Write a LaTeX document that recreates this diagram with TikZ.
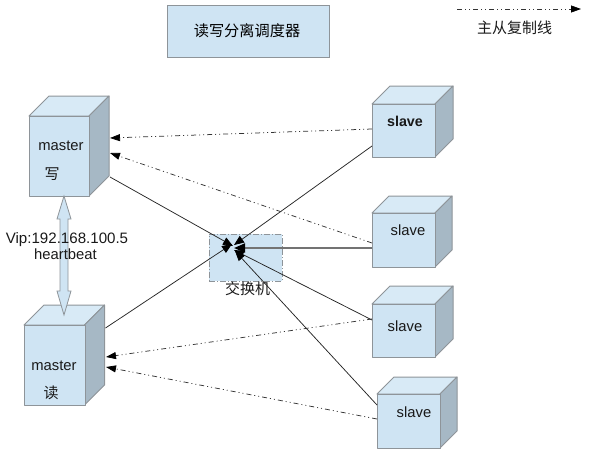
\documentclass[tikz,border=0pt]{standalone}
\usepackage{fontspec}
\setmainfont{Liberation Sans}
\newfontfamily\cjk{Noto Sans CJK SC}
\usetikzlibrary{arrows.meta}
\definecolor{cfront}{HTML}{CFE4F3}
\definecolor{ctop}{HTML}{D8EAF6}
\definecolor{cside}{HTML}{A6B8C5}
\definecolor{cedge}{HTML}{8E9499}
\tikzset{
  x=1pt,y=-1pt,
  lat/.style={font=\fontsize{14.8}{16}\selectfont,inner sep=0pt,text=black!90},
  han/.style={font=\cjk\fontsize{15}{17}\selectfont,inner sep=0pt,text=black!90},
  facefront/.style={draw=cedge,line width=1pt,fill=cfront,inner sep=0pt,anchor=north west,line join=round},
  facetop/.style={draw=cedge,line width=1pt,fill=ctop,line join=round},
  faceside/.style={draw=cedge,line width=1pt,fill=cside,line join=round},
  link/.style={draw=black!85,line width=.75pt,-{Triangle[length=10pt,width=8pt,color=black]}},
  linkthick/.style={draw=black!55,line width=2pt,-{Triangle[length=11pt,width=9pt,color=black]}},
  repl/.style={draw=black!80,line width=.75pt,dash pattern=on 5pt off 3pt on 1pt off 3pt on 1pt off 3pt,-{Triangle[length=10pt,width=7pt,color=black]}},
  beat/.style={draw=cedge,line width=.8pt,fill=cfront,line join=miter},
}
% name, left, top, width, height, depth
\newcommand{\cubebox}[6]{%
  \fill[facetop] (#2,#3) -- ({#2+#6},{#3-#6}) -- ({#2+#4+#6},{#3-#6}) -- ({#2+#4},#3) -- cycle;
  \fill[faceside] ({#2+#4},#3) -- ({#2+#4+#6},{#3-#6}) -- ({#2+#4+#6},{#3+#5-#6}) -- ({#2+#4},{#3+#5}) -- cycle;
  \node[facefront,minimum width=#4pt,minimum height=#5pt] (#1) at (#2,#3) {};
}
\begin{document}
\begin{tikzpicture}
\useasboundingbox (0,0) rectangle (591,463);
% scheduler
\node[draw=cedge,line width=1pt,fill=cfront,minimum width=162pt,minimum height=52pt,inner sep=0pt,font=\cjk\fontsize{15.2}{17}\selectfont] (sched) at (248,31) {\hspace{-2pt}读写分离调度器};
% legend
\coordinate (legA) at (457,9);
\coordinate (legB) at (581,9);
\draw[repl] (legA) -- (legB);
\node[han] (legT) at (514.5,28) {主从复制线};
% switch
\node[draw=cedge,line width=1pt,dash pattern=on 6pt off 2pt on 1pt off 2pt,fill=cfront,minimum width=73pt,minimum height=47pt,inner sep=0pt] (sw) at (245.5,257.5) {};
\node[han] (swT) at (247.5,289) {交换机};
% cubes
\cubebox{mw}{29}{116}{60}{80}{20}
\cubebox{mr}{24}{325}{60.5}{80}{20}
\cubebox{sa}{372}{104}{63}{53}{18}
\cubebox{sb}{372}{213}{63}{54}{17}
\cubebox{sc}{372}{304}{63}{53}{18}
\cubebox{sd}{377}{394}{63}{54}{17}
% connector ends
\coordinate (mwL) at (110,177);
\coordinate (mrL) at (105.5,328);
\coordinate (saL) at (372,146);
\coordinate (sbL) at (372,248);
\coordinate (scL) at (372,320);
\coordinate (sdL) at (377,405);
\coordinate (swA) at (233,246);
\coordinate (swB) at (232,244);
\coordinate (swF) at (234,245);
\coordinate (swC) at (234,248);
\coordinate (swD) at (234,250);
\coordinate (swE) at (235,251);
% links
\draw[link] (mwL) -- (swA);
\draw[link] (mrL) -- (swB);
\draw[link] (saL) -- (swF);
\draw[linkthick] (sbL) -- (swC);
\draw[link] (scL) -- (swD);
\draw[link] (sdL) -- (swE);
% replication
\coordinate (saR) at (372,129);
\coordinate (sbR) at (372,243);
\coordinate (scR) at (372,319);
\coordinate (sdR) at (377,419);
\coordinate (mwP) at (110,138);
\coordinate (mwQ) at (110,153);
\coordinate (mrP) at (106,357);
\coordinate (mrQ) at (106,367);
\draw[repl] (saR) -- (mwP);
\draw[repl] (sbR) -- (mwQ);
\draw[repl] (scR) -- (mrP);
\draw[repl] (sdR) -- (mrQ);
% heartbeat
\filldraw[beat] (64,196) -- (71,219) -- (68,219) -- (68,291) -- (71,291) -- (64,315) -- (57,291) -- (60,291) -- (60,219) -- (57,219) -- cycle;
% labels
\node[lat] (mwT) at (61,146) {master};
\node[han] (mwH) at (52,174) {写};
\node[lat] (mrT) at (54,366) {master};
\node[han] (mrH) at (51,393) {读};
\node[lat,font=\bfseries\fontsize{14.3}{16}\selectfont] (saT) at (405,121) {slave};
\node[lat] (sbT) at (408,230) {slave};
\node[lat] (scT) at (405,326) {slave};
\node[lat] (sdT) at (414,412) {slave};
\node[lat,font=\fontsize{15.1}{16}\selectfont] (vip) at (67,240) {Vip:192.168.100.5};
\node[lat] (hb) at (65.5,254) {heartbeat};
\end{tikzpicture}
\end{document}
